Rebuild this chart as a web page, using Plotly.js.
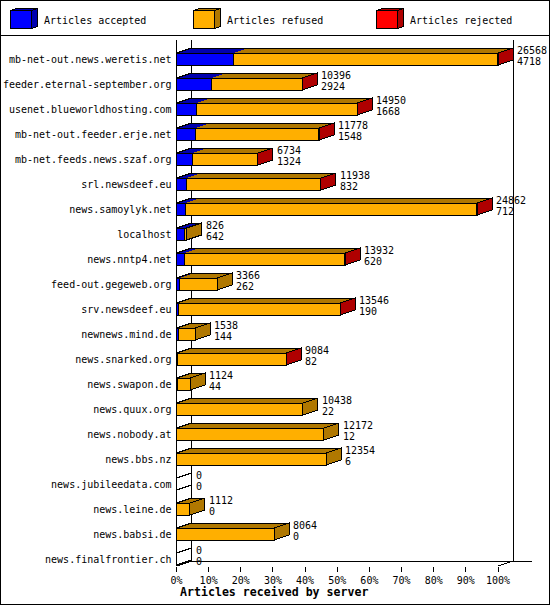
<!DOCTYPE html>
<html>
<head>
<meta charset="utf-8">
<script src="https://cdn.plot.ly/plotly-3.0.1.min.js"></script>
<style>
html,body{margin:0;padding:0;background:#fff}
#chart{width:550px;height:605px}
#chart svg path,#chart svg rect,#chart svg line{shape-rendering:crispEdges}
</style>
</head>
<body>
<div id="chart"></div>
<script>
const servers = ["mb-net-out.news.weretis.net","feeder.eternal-september.org","usenet.blueworldhosting.com","mb-net-out.feeder.erje.net","mb-net.feeds.news.szaf.org","srl.newsdeef.eu","news.samoylyk.net","localhost","news.nntp4.net","feed-out.gegeweb.org","srv.newsdeef.eu","newnews.mind.de","news.snarked.org","news.swapon.de","news.quux.org","news.nobody.at","news.bbs.nz","news.jubileedata.com","news.leine.de","news.babsi.de","news.finalfrontier.ch"];
const received = [26568,10396,14950,11778,6734,11938,24862,826,13932,3366,13546,1538,9084,1124,10438,12172,12354,0,1112,8064,0];
const accepted = [4718,2924,1668,1548,1324,832,712,642,620,262,190,144,82,44,22,12,6,0,0,0,0];
const refused = [21810,7456,13252,10208,5398,11088,24120,184,13300,3104,13342,1394,8996,1080,10416,12160,12348,0,1112,8064,0];
const rejected = [40,16,30,22,12,18,30,0,12,0,14,0,6,0,0,0,0,0,0,0,0];
const seriesNames = ["Articles accepted","Articles refused","Articles rejected"];
const tickLabels = ["0%","10%","20%","30%","40%","50%","60%","70%","80%","90%","100%"];
const tickPercents = [0,10,20,30,40,50,60,70,80,90,100];
const xTitle = "Articles received by server";

const front = ["#0000FF","#FFAF00","#FF0000"];
const dark = ["#0000AF","#B07800","#AF0000"];
const W = 550, H = 605;
const maxV = Math.max(...received);
const X0 = 176.5, X100 = 498, XR = 532, YT = 40, YB = 566;
const unitsPerPx = maxV / (X100 - X0);
const rowPx = 25, row0Px = 59;
const dx = 15 * unitsPerPx, dy = 5 / rowPx, half = 6 / rowPx;
const mono = "'DejaVu Sans Mono', monospace";
const black = "#000";

const px = v => v / W, py = v => 1 - v / H;
const poly = pts => "M" + pts.map(p => p.join(",")).join("L") + "Z";
const shapes = [];
const dataShape = (path, fill, line) => shapes.push({type:"path", xref:"x", yref:"y", path, fillcolor:fill, line:{color:black, width:line}, layer:"below"});
const seg = (x0,y0,x1,y1,w) => shapes.push({type:"line", xref:"x", yref:"y", x0, y0, x1, y1, line:{color:black, width:w||1}, layer:"below"});

const backX = dx, rightX = maxV + dx;
const yTop = (YT - row0Px) / rowPx, yBot = (YB - row0Px) / rowPx, yBack = yBot - dy;
seg(backX, yTop, backX, yBack);
seg(rightX, yTop, rightX, yBack);
seg(backX, yBack, maxV * (XR - X0) / (X100 - X0), yBack);
seg(0, yBot, maxV, yBot);
seg(maxV, yBot, rightX, yBack);
seg(-15 * unitsPerPx, yBot + 5 / rowPx, backX, yBack);

servers.forEach((s, i) => {
  const t = i - half, b = i + half, vals = [accepted[i], refused[i], rejected[i]];
  let a = 0, last = -1;
  vals.forEach((v, k) => {
    if (v > 0) {
      dataShape(poly([[a,t],[a+dx,t-dy],[a+v+dx,t-dy],[a+v,t]]), dark[k], 0);
      last = k;
    }
    a += v;
  });
  dataShape(poly([[0,t],[dx,t-dy],[a+dx,t-dy],[a,t]]), "rgba(0,0,0,0)", 1);
  dataShape(poly([[a,t],[a+dx,t-dy],[a+dx,b-dy],[a,b]]), last >= 0 ? dark[last] : "rgba(0,0,0,0)", 1);
  if (a === 0) seg(0, t, 0, b);
});

// frame and legend band
const pageShape = s => shapes.push(Object.assign({xref:"paper", yref:"paper", layer:"above"}, s));
pageShape({type:"rect", x0:px(0.5), x1:px(549.5), y0:py(0.5), y1:py(604.5), line:{color:black,width:1}});
pageShape({type:"line", x0:px(0), x1:px(550), y0:py(35), y1:py(35), line:{color:black,width:1}});
const swatchX = [10.5, 193.5, 376.5], labelX = [42, 225, 408];
const legendNotes = [];
seriesNames.forEach((n, k) => {
  const x = swatchX[k], l = x, r = x + 21, t = 10.5, b = 28.5, d = 6, e = 2;
  const P = p => p.map(q => [px(q[0]), py(q[1])]);
  const add = (pts, fill) => pageShape({type:"path", path:poly(P(pts)), fillcolor:fill, line:{color:black,width:1}});
  add([[l,t],[l+d,t-e],[r+d,t-e],[r,t]], dark[k]);
  add([[r,t],[r+d,t-e],[r+d,b-e],[r,b]], dark[k]);
  add([[l,t],[r,t],[r,b],[l,b]], front[k]);
  legendNotes.push({xref:"paper", yref:"paper", x:px(labelX[k]), y:py(20), xanchor:"left", yanchor:"middle", text:n, showarrow:false, font:{family:mono,size:10,color:black}});
});

const valueNotes = [];
servers.forEach((s, i) => {
  [[received[i], 9],[accepted[i], -2]].forEach(([v, shift]) => {
    valueNotes.push({xref:"x", yref:"y", x:received[i] + dx, y:i, xanchor:"left", yanchor:"middle", xshift:2, yshift:shift, text:String(v), showarrow:false, font:{family:mono,size:10,color:black}});
  });
});
const titleNote = {xref:"paper", yref:"paper", x:px(273.5), y:py(592), xanchor:"center", yanchor:"middle", text:"<b>"+xTitle+"</b>", showarrow:false, font:{family:mono,size:11.6,color:black}};

const traces = seriesNames.map((n, k) => ({
  type:"bar", orientation:"h", name:n, y:servers, x:[accepted,refused,rejected][k],
  width:servers.map(() => 2 * half),
  marker:{color:front[k], line:{color:black,width:1}},
  showlegend:false, hoverinfo:"skip", cliponaxis:false
}));

Plotly.newPlot("chart", traces, {
  width:W, height:H, margin:{l:0,r:0,t:0,b:0}, paper_bgcolor:"#fff", plot_bgcolor:"#fff",
  barmode:"stack", showlegend:false,
  xaxis:{domain:[px(X0), px(XR)], range:[0, maxV*(XR-X0)/(X100-X0)], tickmode:"array",
    tickvals:tickPercents.map(p => p*maxV/100), ticktext:tickLabels, ticks:"outside", ticklen:5, tickcolor:black, tickwidth:1,
    tickangle:0, showgrid:false, zeroline:false, showline:false, tickfont:{family:mono,size:10,color:black}},
  yaxis:{domain:[py(YB), py(YT)], type:"category", categoryorder:"array", categoryarray:servers,
    range:[yBot, yTop], showgrid:false, zeroline:false, showline:true, linecolor:black, linewidth:1, ticks:"", ticklabelstandoff:2,
    tickfont:{family:mono,size:10,color:black}},
  shapes, annotations:[...legendNotes, ...valueNotes, titleNote]
}, {staticPlot:true, displayModeBar:false});
</script>
</body>
</html>
